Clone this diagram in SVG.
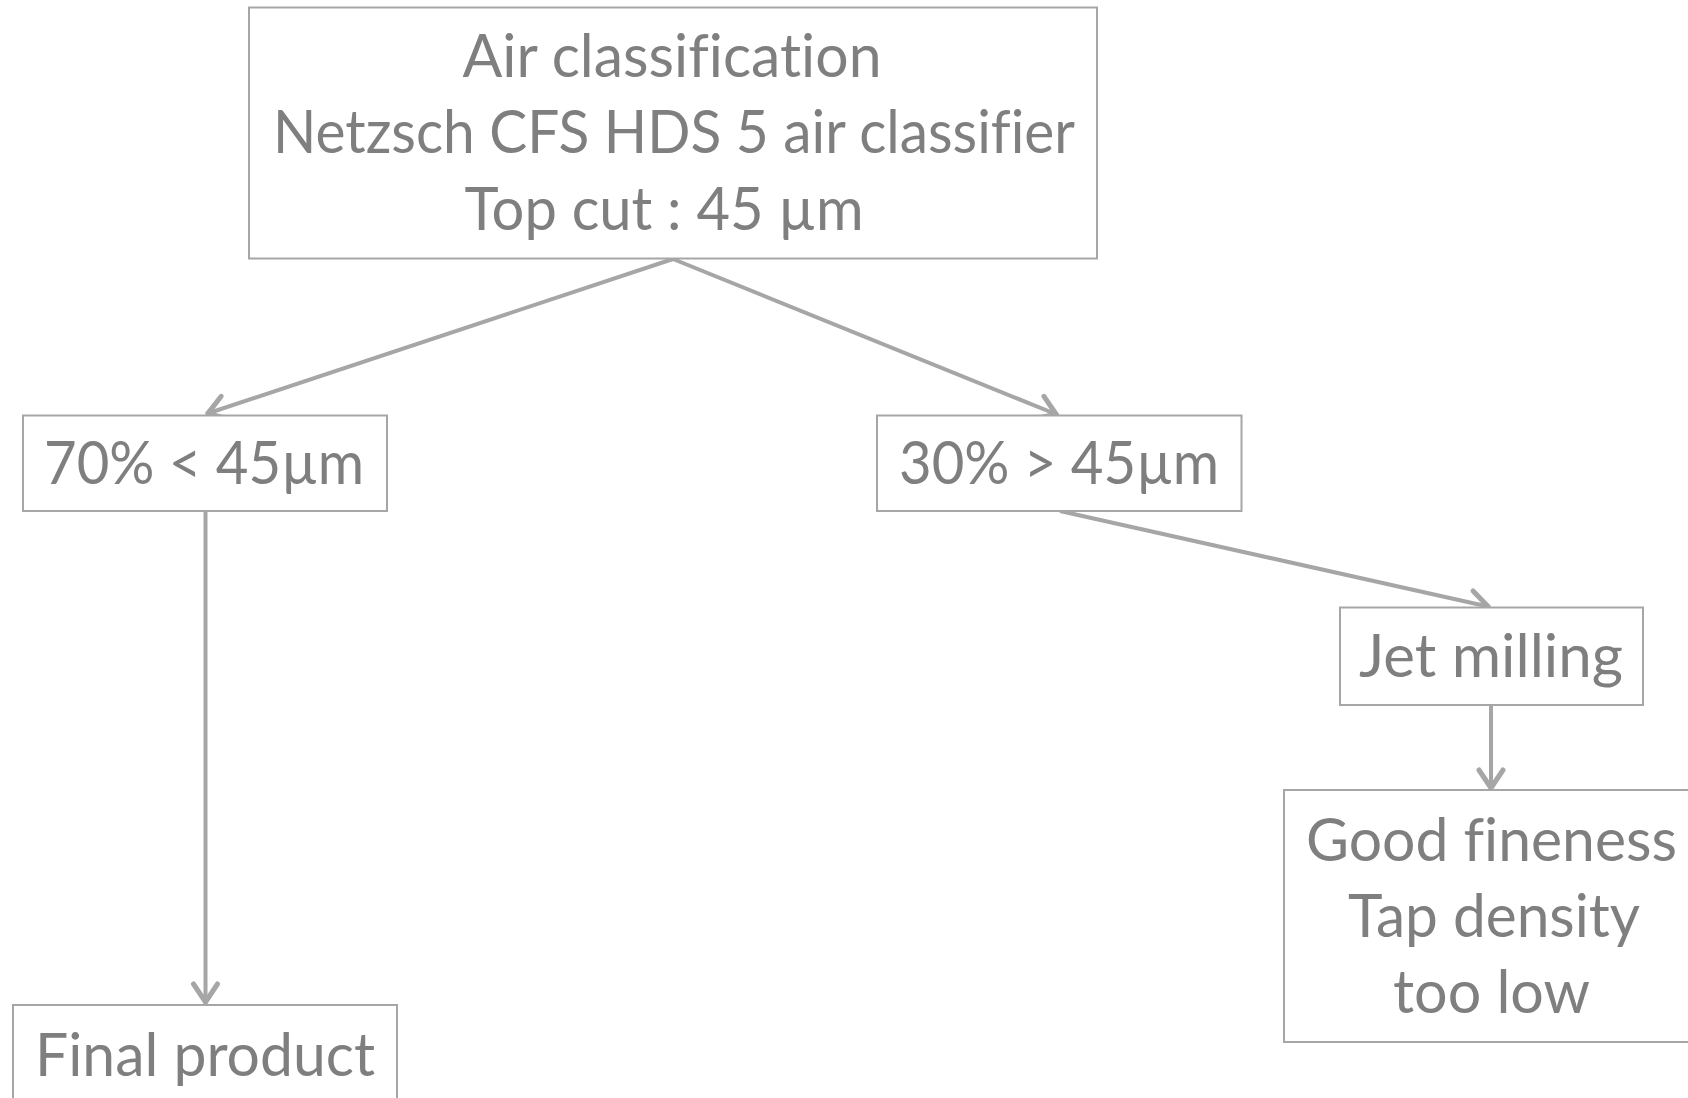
<svg xmlns="http://www.w3.org/2000/svg" width="1688" height="1098" viewBox="0 0 1688 1098">
<style>
.box{fill:#ffffff;stroke:#a6a6a6;stroke-width:2}
.t{font-family:Lato,"Open Sans",sans-serif;font-size:60px;fill:#7f7f7f;text-anchor:middle;font-variant-ligatures:none;font-feature-settings:"liga" 0}
.c{stroke:#a6a6a6;stroke-width:4;fill:none}
</style>
<defs>
<marker id="ah" viewBox="-26 -16 30 32" refX="0" refY="0" markerWidth="30" markerHeight="32" markerUnits="userSpaceOnUse" orient="auto">
<path d="M-20,-12 L-2,0 L-20,12" fill="none" stroke="#a6a6a6" stroke-width="5" stroke-linecap="round" stroke-linejoin="round"/>
</marker>
</defs>
<rect width="1688" height="1098" fill="#ffffff"/>
<g id="connectors">
<line class="c" x1="673" y1="259" x2="206" y2="414" marker-end="url(#ah)"/>
<line class="c" x1="673" y1="259" x2="1058" y2="415" marker-end="url(#ah)"/>
<line class="c" x1="1060" y1="511" x2="1490" y2="607" marker-end="url(#ah)"/>
<line class="c" x1="205.5" y1="511" x2="205.5" y2="1004" marker-end="url(#ah)"/>
<line class="c" x1="1491" y1="705" x2="1491" y2="790" marker-end="url(#ah)"/>
</g>
<g id="node-air">
<rect class="box" x="249" y="7.5" width="848" height="251"/>
<text class="t" x="672" y="76.5" textLength="419" lengthAdjust="spacingAndGlyphs">Air classification</text>
<text class="t" x="674" y="153" textLength="802" lengthAdjust="spacingAndGlyphs">Netzsch CFS HDS 5 air classifier</text>
<text class="t" x="664" y="229.5" textLength="399" lengthAdjust="spacingAndGlyphs">Top cut : 45 µm</text>
</g>
<g id="node-70">
<rect class="box" x="23" y="415.5" width="364" height="95.5"/>
<text class="t" x="204" y="484" textLength="320" lengthAdjust="spacingAndGlyphs">70% &lt; 45µm</text>
</g>
<g id="node-30">
<rect class="box" x="877" y="415.5" width="364.5" height="95.5"/>
<text class="t" x="1059" y="484" textLength="320" lengthAdjust="spacingAndGlyphs">30% &gt; 45µm</text>
</g>
<g id="node-jet">
<rect class="box" x="1340" y="607.5" width="303" height="97.5"/>
<text class="t" x="1491" y="677" textLength="264" lengthAdjust="spacingAndGlyphs">Jet milling</text>
</g>
<g id="node-good">
<rect class="box" x="1284" y="790" width="420" height="252"/>
<text class="t" x="1491.5" y="861" textLength="371" lengthAdjust="spacingAndGlyphs">Good fineness</text>
<text class="t" x="1494" y="937" textLength="292" lengthAdjust="spacingAndGlyphs">Tap density</text>
<text class="t" x="1491.5" y="1013" textLength="197" lengthAdjust="spacingAndGlyphs">too low</text>
</g>
<g id="node-final">
<rect class="box" x="13" y="1005" width="384" height="120"/>
<text class="t" x="205" y="1076" textLength="340" lengthAdjust="spacingAndGlyphs">Final product</text>
</g>
</svg>
